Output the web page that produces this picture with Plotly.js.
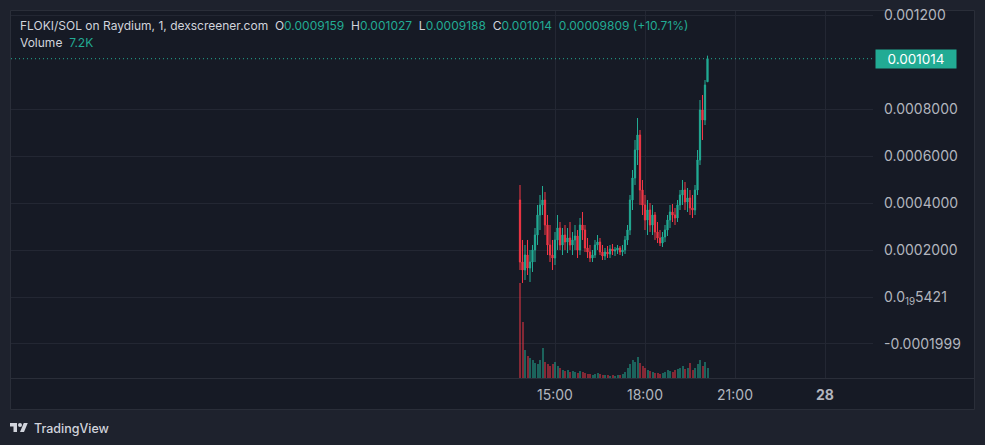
<!DOCTYPE html>
<html><head><meta charset="utf-8">
<script src="https://cdn.plot.ly/plotly-3.0.1.min.js"></script>
<style>html,body{margin:0;padding:0;background:#1e222d;}#chart{width:985px;height:445px;}</style>
</head><body><div id="chart"></div>
<script>
// ---------- data ----------
const DAY = '2024-03-27';
const times = ['13:50','13:55',
 '14:00','14:05','14:10','14:15','14:20','14:25','14:30','14:35','14:40','14:45','14:50','14:55',
 '15:00','15:05','15:10','15:15','15:20','15:25','15:30','15:35','15:40','15:45','15:50','15:55',
 '16:00','16:05','16:10','16:15','16:20','16:25','16:30','16:35','16:40','16:45','16:50','16:55',
 '17:00','17:05','17:10','17:15','17:20','17:25','17:30','17:35','17:40','17:45','17:50','17:55',
 '18:00','18:05','18:10','18:15','18:20','18:25','18:30','18:35','18:40','18:45','18:50','18:55',
 '19:00','19:05','19:10','19:15','19:20','19:25','19:30','19:35','19:40','19:45','19:50','19:55',
 '20:00','20:05'];
const openP = [
 0.0004128,0.0001489,0.0001149,0.0001787,0.0001234,0.0001489,0.0002000,0.0002638,0.0003489,0.0003915,
 0.0004128,0.0003064,0.0002213,0.0001787,0.0001660,0.0002426,0.0002936,0.0002213,0.0002638,0.0002340,
 0.0002511,0.0002213,0.0002426,0.0002596,0.0002000,0.0003064,0.0002851,0.0002085,0.0001915,0.0001660,
 0.0001787,0.0002213,0.0002340,0.0001915,0.0001745,0.0001915,0.0001830,0.0002043,0.0001957,0.0002000,
 0.0002085,0.0001915,0.0002000,0.0002426,0.0002851,0.0004128,0.0005064,0.0006255,0.0006894,0.0004553,
 0.0003915,0.0003277,0.0003702,0.0003064,0.0003489,0.0002766,0.0002511,0.0002298,0.0002553,0.0002851,
 0.0003277,0.0003617,0.0003489,0.0003362,0.0003915,0.0004340,0.0004553,0.0004043,0.0004213,0.0003787,
 0.0003702,0.0004553,0.0005830,0.0007957,0.0007532,0.0009159];
const highP = [
 0.0004766,0.0002426,0.0002213,0.0002426,0.0002000,0.0002213,0.0002936,0.0003915,0.0004340,0.0004723,
 0.0004468,0.0003489,0.0003064,0.0002426,0.0002766,0.0003489,0.0003191,0.0002936,0.0003064,0.0002936,
 0.0003191,0.0002766,0.0003064,0.0002851,0.0003362,0.0003617,0.0003064,0.0002511,0.0002213,0.0002000,
 0.0002426,0.0002638,0.0002511,0.0002213,0.0002085,0.0002170,0.0002213,0.0002255,0.0002128,0.0002213,
 0.0002170,0.0002213,0.0002596,0.0003064,0.0004340,0.0005404,0.0006681,0.0007617,0.0007106,0.0004979,
 0.0004340,0.0004128,0.0004000,0.0003915,0.0003617,0.0003191,0.0002851,0.0002766,0.0003064,0.0003489,
 0.0003915,0.0003957,0.0003787,0.0004128,0.0004553,0.0004979,0.0004894,0.0004638,0.0004553,0.0004340,
 0.0004766,0.0006255,0.0008383,0.0008596,0.0009234,0.001027];
const lowP = [
 0.0001149,0.0000596,0.0000723,0.0000936,0.0000638,0.0001064,0.0001489,0.0002213,0.0002851,0.0003489,
 0.0002638,0.0001787,0.0001489,0.0001149,0.0001362,0.0002000,0.0002000,0.0001787,0.0002000,0.0001872,
 0.0002000,0.0001787,0.0002000,0.0001660,0.0001787,0.0002426,0.0001915,0.0001660,0.0001489,0.0001489,
 0.0001660,0.0002000,0.0001787,0.0001574,0.0001574,0.0001660,0.0001660,0.0001787,0.0001745,0.0001830,
 0.0001787,0.0001745,0.0001830,0.0002213,0.0002638,0.0003702,0.0004766,0.0005617,0.0003915,0.0003489,
 0.0002851,0.0002638,0.0002766,0.0002638,0.0002426,0.0002298,0.0002170,0.0002128,0.0002340,0.0002596,
 0.0002936,0.0003191,0.0003064,0.0003191,0.0003702,0.0003915,0.0003702,0.0003617,0.0003489,0.0003362,
 0.0003489,0.0004340,0.0005617,0.0006681,0.0007319,0.0009159];
const closeP = [
 0.0001489,0.0001149,0.0001787,0.0001234,0.0001489,0.0002000,0.0002638,0.0003489,0.0003915,0.0004128,
 0.0003064,0.0002213,0.0001787,0.0001660,0.0002426,0.0002936,0.0002213,0.0002638,0.0002340,0.0002511,
 0.0002213,0.0002426,0.0002596,0.0002000,0.0003064,0.0002851,0.0002085,0.0001915,0.0001660,0.0001787,
 0.0002213,0.0002340,0.0001915,0.0001745,0.0001915,0.0001830,0.0002043,0.0001957,0.0002000,0.0002085,
 0.0001915,0.0002000,0.0002426,0.0002851,0.0004128,0.0005064,0.0006255,0.0006894,0.0004553,0.0003915,
 0.0003277,0.0003702,0.0003064,0.0003489,0.0002766,0.0002511,0.0002298,0.0002553,0.0002851,0.0003277,
 0.0003617,0.0003489,0.0003362,0.0003915,0.0004340,0.0004553,0.0004043,0.0004213,0.0003787,0.0003702,
 0.0004553,0.0005830,0.0007957,0.0007532,0.0009021,0.001014];
const volume = [
 71300,42000,21000,16500,15000,13500,11200,10500,13500,22500,
 12000,10500,9000,10500,12000,9000,7500,6000,5200,6000,
 4500,5200,4500,3700,5200,4500,3700,3000,3000,2200,
 3000,3700,3000,2200,2200,2200,1500,2200,1500,2200,
 2200,3000,4500,7500,10500,13500,12000,15700,11200,9000,
 7500,6000,5200,4500,3700,3700,3000,3700,4500,6000,
 5200,4500,6000,6700,7500,9000,6700,7500,11200,6000,
 7500,10500,13500,9000,12000,7200];

const priceTickVals = [0.0012, 0.0008, 0.0006, 0.0004, 0.0002, 5.421e-20, -0.0001999];
const priceTickText = ['0.001200', '0.0008000', '0.0006000', '0.0004000', '0.0002000', '0.0<sub>19</sub>5421', '-0.0001999'];
const timeTickVals = ['2024-03-27 15:00', '2024-03-27 18:00', '2024-03-27 21:00', '2024-03-28 00:00'];
const timeTickText = ['15:00', '18:00', '21:00', '<b>28</b>'];

const titleText = 'FLOKI/SOL on Raydium, 1, dexscreener.com';
const legendKeys = ['O', 'H', 'L', 'C'];
const legendVals = ['0.0009159', '0.001027', '0.0009188', '0.001014'];
const changeText = '0.00009809 (+10.71%)';
const volumeLabel = 'Volume';
const volumeText = '7.2K';
const lastPriceText = '0.001014';

// ---------- styles ----------
const UP = '#22ab94', DOWN = '#f23645';
const UP_V = 'rgba(34,171,148,0.5)', DOWN_V = 'rgba(242,54,69,0.5)';
const TXT = '#b2b5be', GRID = '#232733', BORDER = '#2a2e39';
const W = 985, H = 445, ML = 11, MR = 112, MT = 11, MB = 67;
const PW = W - ML - MR, PH = H - MT - MB;
const fx = p => (p - ML) / PW;
const fy = p => (H - MB - p) / PH;

const x = times.map(t => DAY + ' ' + t);
const volColors = closeP.map((c, i) => c >= openP[i] ? UP_V : DOWN_V);

const traces = [
  {type: 'bar', x: x, y: volume, yaxis: 'y2', marker: {color: volColors, line: {width: 0}},
   width: 4 * 60 * 1000, hoverinfo: 'skip', showlegend: false},
  {type: 'candlestick', x: x, open: openP, high: highP, low: lowP, close: closeP,
   increasing: {line: {color: UP, width: 1}, fillcolor: UP},
   decreasing: {line: {color: DOWN, width: 1}, fillcolor: DOWN},
   whiskerwidth: 0, hoverinfo: 'skip', showlegend: false}
];

const F = 'Inter, Roboto, sans-serif';
const span = (t, c) => `<span style="color:${c}">${t}</span>`;
let legendHtml = span(titleText, '#d1d4dc');
legendKeys.forEach((k, i) => { legendHtml += '&nbsp;&nbsp;' + span(k, '#d1d4dc') + span(legendVals[i], UP); });
legendHtml += '&nbsp;&nbsp;' + span(changeText, UP);

const last = closeP.length - 1;

const layout = {
  width: W, height: H,
  margin: {l: ML, r: MR, t: MT, b: MB, pad: 0},
  paper_bgcolor: '#1e222d',
  plot_bgcolor: 'rgba(0,0,0,0)',
  showlegend: false,
  dragmode: false,
  bargap: 0,
  font: {family: F, color: TXT, size: 13},
  xaxis: {
    type: 'date', range: ['2024-03-26 20:52', '2024-03-28 01:36'],
    rangeslider: {visible: false},
    tickmode: 'array', tickvals: timeTickVals, ticktext: timeTickText,
    showgrid: true, gridcolor: GRID, gridwidth: 1,
    zeroline: false, showline: false, ticks: '',
    ticklabelstandoff: 7,
    tickfont: {family: F, size: 14, color: TXT}, fixedrange: true
  },
  yaxis: {
    side: 'right', range: [-0.0003447, 0.0012170], autorange: false,
    tickmode: 'array', tickvals: priceTickVals, ticktext: priceTickText,
    showgrid: true, gridcolor: GRID, gridwidth: 1,
    zeroline: false, showline: false, ticks: '',
    ticklabelstandoff: 10,
    tickfont: {family: F, size: 14, color: TXT}, fixedrange: true
  },
  yaxis2: {overlaying: 'y', side: 'right', range: [0, 275000], visible: false, fixedrange: true},
  shapes: [
    {type: 'rect', xref: 'paper', yref: 'paper', x0: fx(10.5), x1: fx(974.5), y0: fy(409.5), y1: fy(10.5),
     fillcolor: '#161a25', line: {color: BORDER, width: 1}, layer: 'below'},
    {type: 'line', xref: 'paper', yref: 'paper', x0: fx(10.5), x1: fx(974.5), y0: fy(378.5), y1: fy(378.5),
     line: {color: BORDER, width: 1}, layer: 'below'},
    {type: 'line', xref: 'paper', yref: 'y', x0: 0, x1: 1, y0: closeP[last], y1: closeP[last],
     line: {color: UP, width: 1, dash: '1px,3px'}, layer: 'above'}
  ],
  annotations: [
    {xref: 'paper', yref: 'paper', x: fx(18), y: fy(25), xanchor: 'left', yanchor: 'middle',
     text: legendHtml, showarrow: false, font: {family: F, size: 12, color: '#d1d4dc'}},
    {xref: 'paper', yref: 'paper', x: fx(18), y: fy(42), xanchor: 'left', yanchor: 'middle',
     text: span(volumeLabel, '#d1d4dc') + '&nbsp;&nbsp;' + span(volumeText, UP), showarrow: false,
     font: {family: F, size: 12, color: '#d1d4dc'}},
    {xref: 'paper', yref: 'y', x: 1, y: closeP[last], xanchor: 'left', yanchor: 'middle', xshift: 2,
     text: lastPriceText, showarrow: false, bgcolor: UP, borderpad: 0, width: 80, height: 18,
     font: {family: F, size: 13.5, color: '#ffffff'}},
    {xref: 'paper', yref: 'paper', x: fx(32), y: fy(428), xanchor: 'left', yanchor: 'middle',
     text: 'TradingView', showarrow: false, font: {family: F, size: 12.5, color: '#d1d4dc', weight: 500}}
  ],
  images: [
    {source: 'data:image/svg+xml;charset=utf-8,' + encodeURIComponent(
      '<svg xmlns="http://www.w3.org/2000/svg" viewBox="0 0 36 28"><path fill="#d1d4dc" d="M14 22H7V11H0V4h14v18zM28 22h-8l7.5-18h8L28 22z"/><circle fill="#d1d4dc" cx="20" cy="8" r="4"/></svg>'),
     xref: 'paper', yref: 'paper', x: fx(10), y: fy(421), sizex: 18 / PW, sizey: 14 / PH,
     xanchor: 'left', yanchor: 'top', sizing: 'stretch', layer: 'above'}
  ]
};

Plotly.newPlot('chart', traces, layout, {displayModeBar: false, staticPlot: true});
</script>
</body></html>
